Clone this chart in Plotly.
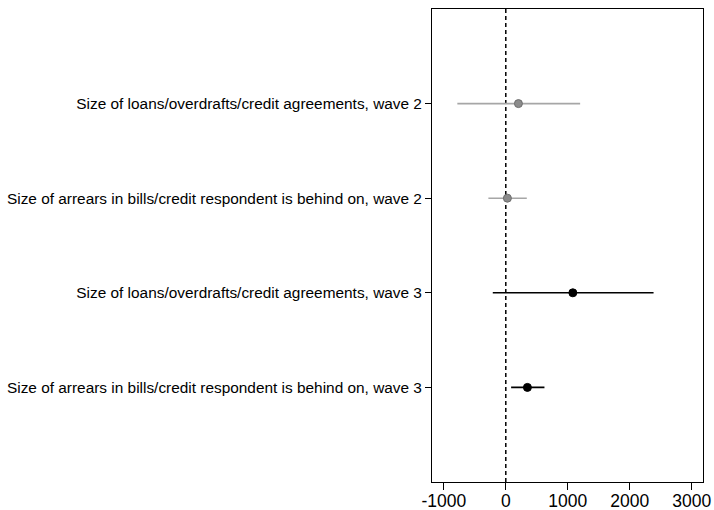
import plotly.graph_objects as go

# Outcomes and estimates (coefficient with 95% confidence interval)
labels = [
    "Size of loans/overdrafts/credit agreements, wave 2",
    "Size of arrears in bills/credit respondent is behind on, wave 2",
    "Size of loans/overdrafts/credit agreements, wave 3",
    "Size of arrears in bills/credit respondent is behind on, wave 3",
]
estimates = [204, 26, 1082, 349]
ci_low = [-782, -281, -210, 86]
ci_high = [1200, 339, 2385, 624]
wave = [2, 2, 3, 3]

positions = list(range(1, len(labels) + 1))

fig = go.Figure()

styles = {
    2: dict(line="#a6a6a6", fill="#8c8c8c", edge="#6e6e6e"),
    3: dict(line="#000000", fill="#000000", edge="#000000"),
}

for w in (2, 3):
    idx = [i for i in range(len(labels)) if wave[i] == w]
    st = styles[w]
    fig.add_trace(go.Scatter(
        x=[estimates[i] for i in idx],
        y=[positions[i] for i in idx],
        mode="markers",
        marker=dict(size=8, color=st["fill"], line=dict(color=st["edge"], width=1)),
        error_x=dict(
            type="data", symmetric=False,
            array=[ci_high[i] - estimates[i] for i in idx],
            arrayminus=[estimates[i] - ci_low[i] for i in idx],
            color=st["line"], thickness=1.6, width=0,
        ),
        showlegend=False,
    ))

# Reference line at zero
fig.add_shape(type="line", x0=0, x1=0, y0=0, y1=1, xref="x", yref="paper",
              line=dict(color="black", width=1.5, dash="4px,3px"), layer="below")

fig.update_layout(
    width=714, height=510,
    margin=dict(l=432, r=11, t=9, b=28),
    plot_bgcolor="white", paper_bgcolor="white",
    font=dict(family="Liberation Sans, Arial, sans-serif", color="black"),
    xaxis=dict(
        range=[-1191, 3183],
        tickvals=[-1000, 0, 1000, 2000, 3000],
        ticktext=["-1000", "0", "1000", "2000", "3000"],
        ticks="outside", ticklen=7, tickcolor="black",
        showline=True, linecolor="black", linewidth=1, mirror=True,
        showgrid=False, zeroline=False, automargin=False,
        tickfont=dict(size=17.5), ticklabelstandoff=-4,
    ),
    yaxis=dict(
        range=[5, 0],
        tickvals=positions, ticktext=labels,
        ticks="outside", ticklen=6, tickcolor="black",
        showline=True, linecolor="black", linewidth=1, mirror=True,
        showgrid=False, zeroline=False, automargin=False,
        tickfont=dict(size=15.4),
    ),
)

fig.write_html("out.html")
